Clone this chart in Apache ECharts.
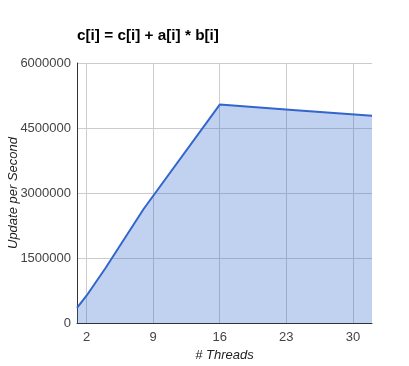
<!DOCTYPE html>
<html>
<head>
<meta charset="utf-8">
<script src="https://cdn.jsdelivr.net/npm/echarts@6/dist/echarts.min.js"></script>
<style>html,body{margin:0;padding:0;background:#fff;}#c{width:409px;height:366px;}</style>
</head>
<body>
<div id="c"></div>
<script>
var threads = [1, 2, 4, 8, 16, 24, 32];
var updates = [350000, 630000, 1270000, 2630000, 5040000, 4910000, 4780000];
var xTicks = [2, 9, 16, 23, 30];
var yTicks = [0, 1500000, 3000000, 4500000, 6000000];
var titleText = 'c[i] = c[i] + a[i] * b[i]';

var chart = echarts.init(document.getElementById('c'), null, {renderer: 'canvas'});
chart.setOption({
  animation: false,
  title: {
    text: titleText, left: 77, top: 28, padding: 0,
    textStyle: {fontFamily: 'Liberation Sans, Arial', fontSize: 15.3, fontWeight: 'bold', color: '#000'}
  },
  grid: {left: 77, right: 37, top: 63, bottom: 43, containLabel: false, outerBoundsMode: 'none'},
  xAxis: {
    type: 'value', min: 1, max: 32,
    name: '# Threads', nameLocation: 'middle', nameGap: 26, nameMoveOverlap: false,
    nameTextStyle: {fontFamily: 'Liberation Sans, Arial', fontSize: 13, fontStyle: 'italic', color: '#222'},
    axisLine: {show: true, lineStyle: {color: '#333', width: 1}},
    axisTick: {show: false, customValues: xTicks},
    axisLabel: {customValues: xTicks, margin: 8, fontFamily: 'Liberation Sans, Arial', fontSize: 13, color: '#444'},
    splitLine: {show: true, lineStyle: {color: '#ccc', width: 1}}
  },
  yAxis: {
    type: 'value', min: yTicks[0], max: yTicks[yTicks.length - 1], interval: 1500000,
    name: 'Update per Second', nameLocation: 'middle', nameGap: 57, nameMoveOverlap: false,
    nameTextStyle: {fontFamily: 'Liberation Sans, Arial', fontSize: 13, fontStyle: 'italic', color: '#222'},
    axisLine: {show: true, lineStyle: {color: '#333', width: 1}},
    axisTick: {show: false},
    axisLabel: {margin: 6, fontFamily: 'Liberation Sans, Arial', fontSize: 13, color: '#444',
      formatter: function (v) { return String(v); }},
    splitLine: {show: true, lineStyle: {color: '#ccc', width: 1}}
  },
  series: [{
    type: 'line',
    data: threads.map(function (t, i) { return [t, updates[i]]; }),
    showSymbol: false,
    lineStyle: {color: '#3366cc', width: 2},
    itemStyle: {color: '#3366cc'},
    areaStyle: {color: '#3366cc', opacity: 0.3},
    z: 1
  }]
});
</script>
</body>
</html>
